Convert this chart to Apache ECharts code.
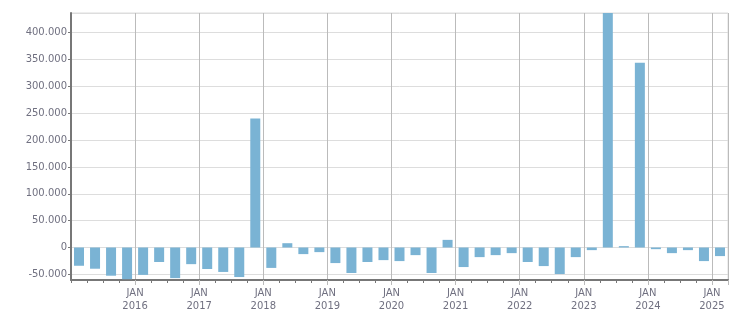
<!DOCTYPE html>
<html>
<head>
<meta charset="utf-8">
<script src="https://cdn.jsdelivr.net/npm/echarts@6/dist/echarts.min.js"></script>
<style>html,body{margin:0;padding:0;background:#fff}#c{width:751px;height:313px}</style>
</head>
<body>
<div id="c"></div>
<script>
// Quarterly categories, 2015 Q1 .. 2025 Q1
const categories = [
  '2015Q1','2015Q2','2015Q3','2015Q4',
  '2016Q1','2016Q2','2016Q3','2016Q4',
  '2017Q1','2017Q2','2017Q3','2017Q4',
  '2018Q1','2018Q2','2018Q3','2018Q4',
  '2019Q1','2019Q2','2019Q3','2019Q4',
  '2020Q1','2020Q2','2020Q3','2020Q4',
  '2021Q1','2021Q2','2021Q3','2021Q4',
  '2022Q1','2022Q2','2022Q3','2022Q4',
  '2023Q1','2023Q2','2023Q3','2023Q4',
  '2024Q1','2024Q2','2024Q3','2024Q4',
  '2025Q1'
];
const values = [
  -34000, -39500, -52500, -59000,
  -51000, -27000, -57000, -31000,
  -40000, -45500, -55000, 240000,
  -38000, 8000, -12300, -8600,
  -29000, -47500, -27000, -23500,
  -25300, -14200, -47500, 14200,
  -36400, -17900, -14200, -10500,
  -27000, -34600, -49400, -17900,
  -4900, 436500, 2500, 343800,
  -3100, -10500, -4900, -25300,
  -16000
];
const yearLabels = ['2016','2017','2018','2019','2020','2021','2022','2023','2024','2025'];
const yMin = -60500;
const yMax = 436500;

const labelColor = '#707080';
const fontFamily = '"DejaVu Sans", Verdana, sans-serif';

function fmt(v) {
  const s = Math.abs(Math.round(v)).toString().replace(/\B(?=(\d{3})+(?!\d))/g, '.');
  return (v < 0 ? '-' : '') + s;
}
function isJan(index) { return index % 4 === 0 && index > 0 && index < categories.length; }

const chart = echarts.init(document.getElementById('c'), null, {renderer: 'canvas'});
chart.setOption({
  animation: false,
  grid: {left: 71, right: 23, top: 13, bottom: 32, show: true, borderColor: '#dddddd', borderWidth: 1, backgroundColor: 'transparent'},
  xAxis: [
    {
      type: 'category',
      data: categories,
      boundaryGap: true,
      position: 'bottom',
      axisLine: {show: true, onZero: false, lineStyle: {color: '#777777', width: 2}},
      axisTick: {show: true, interval: 0, length: 3, lineStyle: {color: '#777777'}},
      axisLabel: {show: false},
      splitLine: {show: true, interval: isJan, lineStyle: {color: '#bbbbbb', width: 1}}
    },
    {
      type: 'value',
      min: 0,
      max: categories.length,
      interval: 4,
      position: 'bottom',
      axisLine: {show: false, onZero: false},
      axisTick: {show: false},
      splitLine: {show: false},
      axisLabel: {
        show: true,
        showMinLabel: false,
        showMaxLabel: false,
        margin: 7,
        color: labelColor,
        fontFamily: fontFamily,
        fontSize: 10,
        lineHeight: 13,
        formatter: function (v) {
          if (v > 0 && v % 4 === 0) {
            const y = yearLabels[v / 4 - 1];
            return y ? 'JAN\n' + y : '';
          }
          return '';
        }
      }
    },
    {
      type: 'category',
      data: categories,
      boundaryGap: true,
      position: 'bottom',
      axisLine: {show: false, onZero: false},
      axisTick: {show: true, interval: isJan, length: 5, lineStyle: {color: '#bbbbbb'}},
      axisLabel: {show: false},
      splitLine: {show: false}
    }
  ],
  yAxis: {
    type: 'value',
    min: yMin,
    max: yMax,
    splitNumber: 10,
    minInterval: 50000,
    maxInterval: 50000,
    axisLine: {show: true, onZero: false, lineStyle: {color: '#777777', width: 2}},
    axisTick: {show: true, length: 3, lineStyle: {color: '#777777'}},
    axisLabel: {
      showMinLabel: false,
      showMaxLabel: false,
      margin: 4,
      color: labelColor,
      fontFamily: fontFamily,
      fontSize: 10,
      formatter: fmt
    },
    splitLine: {show: true, lineStyle: {color: '#dddddd', width: 1}}
  },
  series: [{
    type: 'bar',
    xAxisIndex: 0,
    data: values,
    barWidth: 10,
    itemStyle: {color: '#7ab3d4'}
  }]
});
</script>
</body>
</html>
